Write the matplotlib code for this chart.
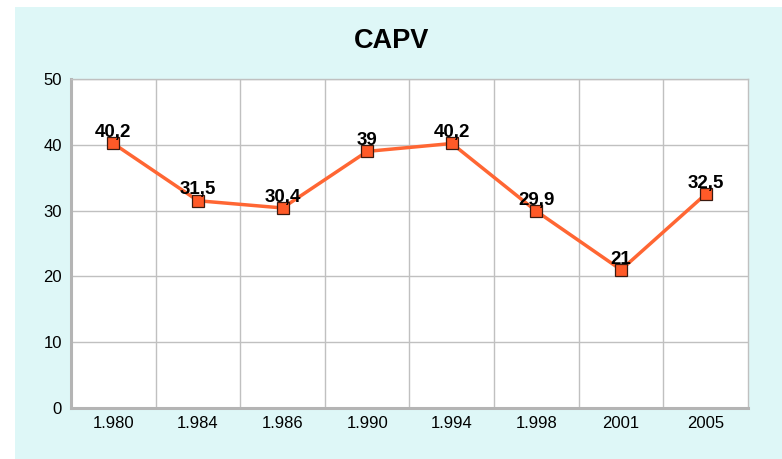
import matplotlib.pyplot as plt
from matplotlib.patches import Rectangle

years = ["1.980", "1.984", "1.986", "1.990", "1.994", "1.998", "2001", "2005"]
values = [40.2, 31.5, 30.4, 39, 40.2, 29.9, 21, 32.5]
value_labels = ["40,2", "31,5", "30,4", "39", "40,2", "29,9", "21", "32,5"]

plt.rcParams["font.family"] = ["Liberation Sans", "DejaVu Sans"]

fig = plt.figure(figsize=(7.82, 4.59), dpi=100)
fig.patch.set_facecolor("white")
# light cyan chart area (leaves a thin white strip on the top and left)
fig.add_artist(Rectangle((15 / 782, 0), 1 - 15 / 782, 1 - 7 / 459,
                         transform=fig.transFigure, facecolor="#DEF7F7",
                         edgecolor="none", zorder=-10))

ax = fig.add_axes([71 / 782, 51 / 459, 677 / 782, 329 / 459])
ax.set_facecolor("white")

x = list(range(len(years)))
ax.plot(x, values, color="#FF6633", linewidth=2.5, marker="s", markersize=8.5,
        markerfacecolor="#FF5A28", markeredgecolor="#3A1A10", markeredgewidth=0.9,
        zorder=3)
for xi, v, lab in zip(x, values, value_labels):
    ax.annotate(lab, (xi, v), xytext=(0, 4.5), textcoords="offset points",
                ha="center", va="baseline", fontsize=13.5, fontweight="bold",
                color="black", zorder=4)

ax.set_xlim(-0.5, len(years) - 0.5)
ax.set_ylim(0, 50)
ax.set_yticks([0, 10, 20, 30, 40, 50])
ax.set_xticks(x)
ax.set_xticklabels(years)
ax.set_xticks([i + 0.5 for i in x[:-1]], minor=True)
ax.tick_params(axis="both", which="both", length=0, labelsize=12)
ax.tick_params(axis="y", pad=6.5)
ax.tick_params(axis="x", pad=6)
ax.grid(True, axis="y", which="major", color="#C0C0C0", linewidth=1)
ax.grid(True, axis="x", which="minor", color="#C0C0C0", linewidth=1)
ax.set_axisbelow(True)

for side in ["top", "right"]:
    ax.spines[side].set_color("#C0C0C0")
    ax.spines[side].set_linewidth(1)
for side in ["left", "bottom"]:
    ax.spines[side].set_color("#B4B4B4")
    ax.spines[side].set_linewidth(2.2)

fig.text(392 / 782, 1 - 40.5 / 459, "CAPV", ha="center", va="center",
         fontsize=19.5, fontweight="bold")

fig.savefig("out.png", dpi=100)
